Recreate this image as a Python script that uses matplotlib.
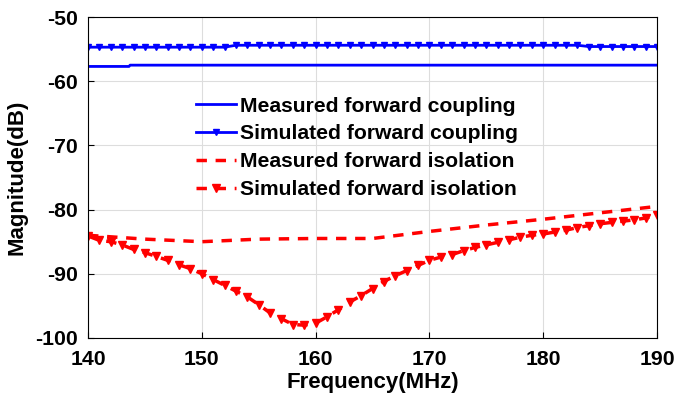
import numpy as np
import matplotlib.pyplot as plt

plt.rcParams['font.family'] = ['Liberation Sans', 'DejaVu Sans']
plt.rcParams['font.weight'] = 'bold'
plt.rcParams['axes.unicode_minus'] = False

# frequency grid (MHz)
f_sim = np.arange(140, 191, 1)
f_meas = [140, 143.6, 143.7, 150, 160, 170, 180, 190]
f_iso_meas = [140, 145, 150, 155, 160, 165, 170, 175, 180, 185, 190]

# measured forward coupling
meas_coup = [-57.7, -57.7, -57.5, -57.5, -57.5, -57.5, -57.5, -57.5]
# simulated forward coupling
sim_coup = ([-54.7] * 13 + [-54.4] * 31 + [-54.6] * 7)
# measured forward isolation
meas_iso = [-84.0, -84.6, -85.0, -84.6, -84.5, -84.5, -83.4, -82.4, -81.5, -80.5, -79.5]
# simulated forward isolation
sim_iso = [-84.1, -84.8, -85.0, -85.5, -86.2, -86.7, -87.3, -87.9, -88.6, -89.2,
           -90.0, -90.9, -91.8, -92.7, -93.6, -94.8, -96.1, -97.0, -97.9, -98.0,
           -97.7, -96.7, -95.6, -94.4, -93.4, -92.3, -91.2, -90.3, -89.5, -88.7,
           -87.9, -87.4, -87.0, -86.4, -85.9, -85.5, -85.1, -84.7, -84.3, -84.0,
           -83.8, -83.5, -83.2, -82.8, -82.5, -82.2, -82.0, -81.8, -81.6, -81.3,
           -80.9]

fig = plt.figure(figsize=(6.75, 4.03), dpi=100)
ax = fig.add_axes([0.1304, 0.1613, 0.8430, 0.7965])

ax.plot(f_meas, meas_coup, '-', color='#0000ff', lw=2, label='Measured forward coupling')
ax.plot(f_sim, sim_coup, '-', color='#0000ff', lw=2, marker='v', ms=5,
        label='Simulated forward coupling')
ax.plot(f_iso_meas, meas_iso, '--', color='#ff0000', lw=2.5, dashes=(3, 2.5),
        label='Measured forward isolation')
ax.plot(f_sim, sim_iso, '--', color='#ff0000', lw=2.5, dashes=(3, 2.5), marker='v', ms=6,
        label='Simulated forward isolation')

ax.set_xlim(140, 190)
ax.set_ylim(-100, -50)
ax.set_xticks(np.arange(140, 191, 10))
ax.set_yticks(np.arange(-100, -49, 10))
ax.grid(True, color='#dddddd', lw=0.8)
ax.tick_params(labelsize=15.3, direction='in', length=4)
ax.tick_params(axis='x', pad=9)
ax.tick_params(axis='y', pad=7)
for lab in ax.get_xticklabels() + ax.get_yticklabels():
    lab.set_fontweight('bold')
ax.set_xlabel('Frequency(MHz)', fontsize=16, fontweight='bold', labelpad=2)
ax.set_ylabel('Magnitude(dB)', fontsize=16, fontweight='bold', labelpad=6)

ax.legend(loc='upper left', bbox_to_anchor=(0.171, 0.785), frameon=False,
          prop={'size': 15.2, 'weight': 'bold'}, handlelength=1.9,
          handletextpad=0.2, labelspacing=0.42, borderpad=0)

fig.savefig('out.png', dpi=100)
